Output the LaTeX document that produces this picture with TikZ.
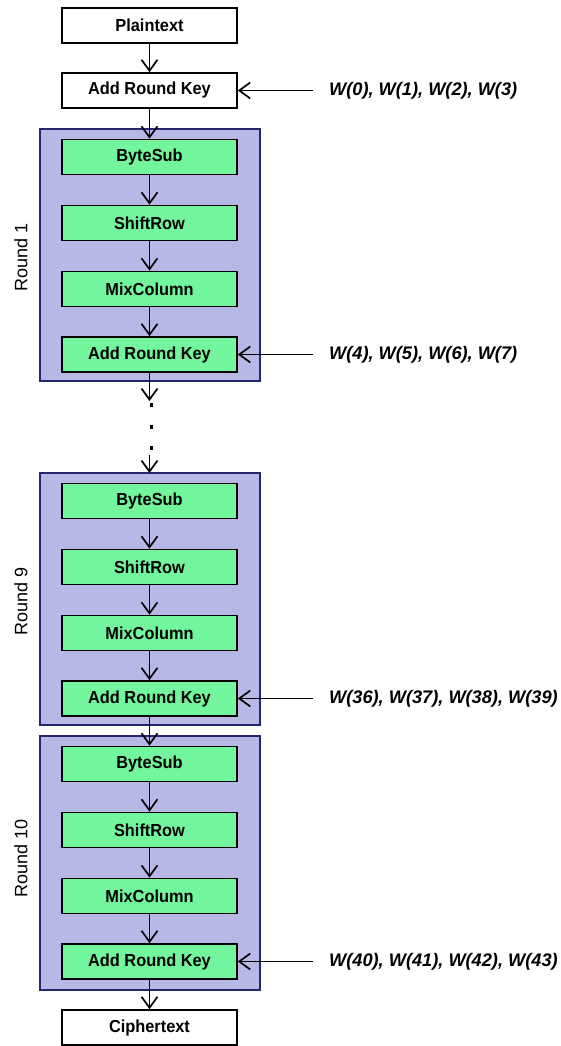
\documentclass[tikz,border=0pt]{standalone}
\usepackage{fontspec}
\setmainfont{Liberation Sans}
\newfontfamily\boxfont[FakeStretch=0.94]{Liberation Sans}
\usetikzlibrary{arrows.meta}
\definecolor{roundfill}{RGB}{184,184,230}
\definecolor{roundedge}{RGB}{38,38,110}
\definecolor{stepfill}{RGB}{114,245,156}
\tikzset{
  box/.style={draw=black, line width=1.6pt, minimum width=175pt, minimum height=35pt, inner sep=0pt,
    font=\boxfont\fontsize{17.4}{20}\selectfont\bfseries},
  plainbox/.style={box, fill=white},
  stepbox/.style={box, fill=stepfill},
  roundbox/.style={draw=roundedge, fill=roundfill, line width=2.5pt},
  arr/.style={draw=black, line width=1.7pt, -{Straight Barb[length=11pt,width=16pt,line width=1.7pt]}},
  keylabel/.style={anchor=west, inner sep=0pt, font=\fontsize{18.2}{21}\selectfont\bfseries\itshape},
  roundlabel/.style={rotate=90, inner sep=0pt, font=\fontsize{18}{21}\selectfont},
  dot/.style={fill=black, minimum size=3.4pt, inner sep=0pt}
}
\begin{document}
\begin{tikzpicture}[x=1pt,y=-1pt]
\useasboundingbox (0,0) rectangle (560,1046);
% round boxes
\path[roundbox] (40,129) rectangle (260,381);
\path[roundbox] (40,473) rectangle (260,725);
\path[roundbox] (40,736) rectangle (260,990);
% labels
\node[roundlabel] (l1) at (21,257) {Round 1};
\node[roundlabel] (l9) at (21,601) {Round 9};
\node[roundlabel] (l10) at (21,858) {Round 10};
% boxes
\node[plainbox] (pt) at (149.5,25.5) {Plaintext};
\node[plainbox] (k0) at (149.5,90.5) {Add Round Key};
\node[stepbox] (b1) at (149.5,157) {ByteSub};
\node[stepbox] (s1) at (149.5,223) {ShiftRow};
\node[stepbox] (m1) at (149.5,289) {MixColumn};
\node[stepbox] (k1) at (149.5,354.5) {Add Round Key};
\node[stepbox] (b9) at (149.5,501) {ByteSub};
\node[stepbox] (s9) at (149.5,567) {ShiftRow};
\node[stepbox] (m9) at (149.5,633) {MixColumn};
\node[stepbox] (k9) at (149.5,698.5) {Add Round Key};
\node[stepbox] (b10) at (149.5,764) {ByteSub};
\node[stepbox] (s10) at (149.5,830) {ShiftRow};
\node[stepbox] (m10) at (149.5,896) {MixColumn};
\node[stepbox] (k10) at (149.5,961.5) {Add Round Key};
\node[plainbox] (ct) at (149.5,1027.5) {Ciphertext};
% dots
\coordinate (d1end) at (149.5,401);
\node[dot] (dA) at (151.5,405) {};
\node[dot] (dB) at (151.5,427) {};
\node[dot] (dC) at (151.5,448) {};
\coordinate (d2start) at (149.5,455);
\coordinate (r9n) at (149.5,473);
% vertical arrows
\draw[arr] (pt) -- (k0);
\draw[arr] (k0) -- (b1);
\draw[arr] (b1) -- (s1);
\draw[arr] (s1) -- (m1);
\draw[arr] (m1) -- (k1);
\draw[arr] (k1.south) -- (d1end);
\draw[arr] (d2start) -- (r9n);
\draw[arr] (b9) -- (s9);
\draw[arr] (s9) -- (m9);
\draw[arr] (m9) -- (k9);
\draw[arr] (k9) -- (b10);
\draw[arr] (b10) -- (s10);
\draw[arr] (s10) -- (m10);
\draw[arr] (m10) -- (k10);
\draw[arr] (k10) -- (ct);
% keys
\coordinate (w0) at (313,90.5);
\coordinate (w1) at (313,354.5);
\coordinate (w9) at (313,698.5);
\coordinate (w10) at (313,961.5);
\node[keylabel] (t0) at (329,90.5) {W(0), W(1), W(2), W(3)};
\node[keylabel] (t1) at (329,354.5) {W(4), W(5), W(6), W(7)};
\node[keylabel] (t9) at (329,698.5) {W(36), W(37), W(38), W(39)};
\node[keylabel] (t10) at (329,961.5) {W(40), W(41), W(42), W(43)};
\draw[arr] (w0) -- (k0.east);
\draw[arr] (w1) -- (k1.east);
\draw[arr] (w9) -- (k9.east);
\draw[arr] (w10) -- (k10.east);
\end{tikzpicture}
\end{document}
